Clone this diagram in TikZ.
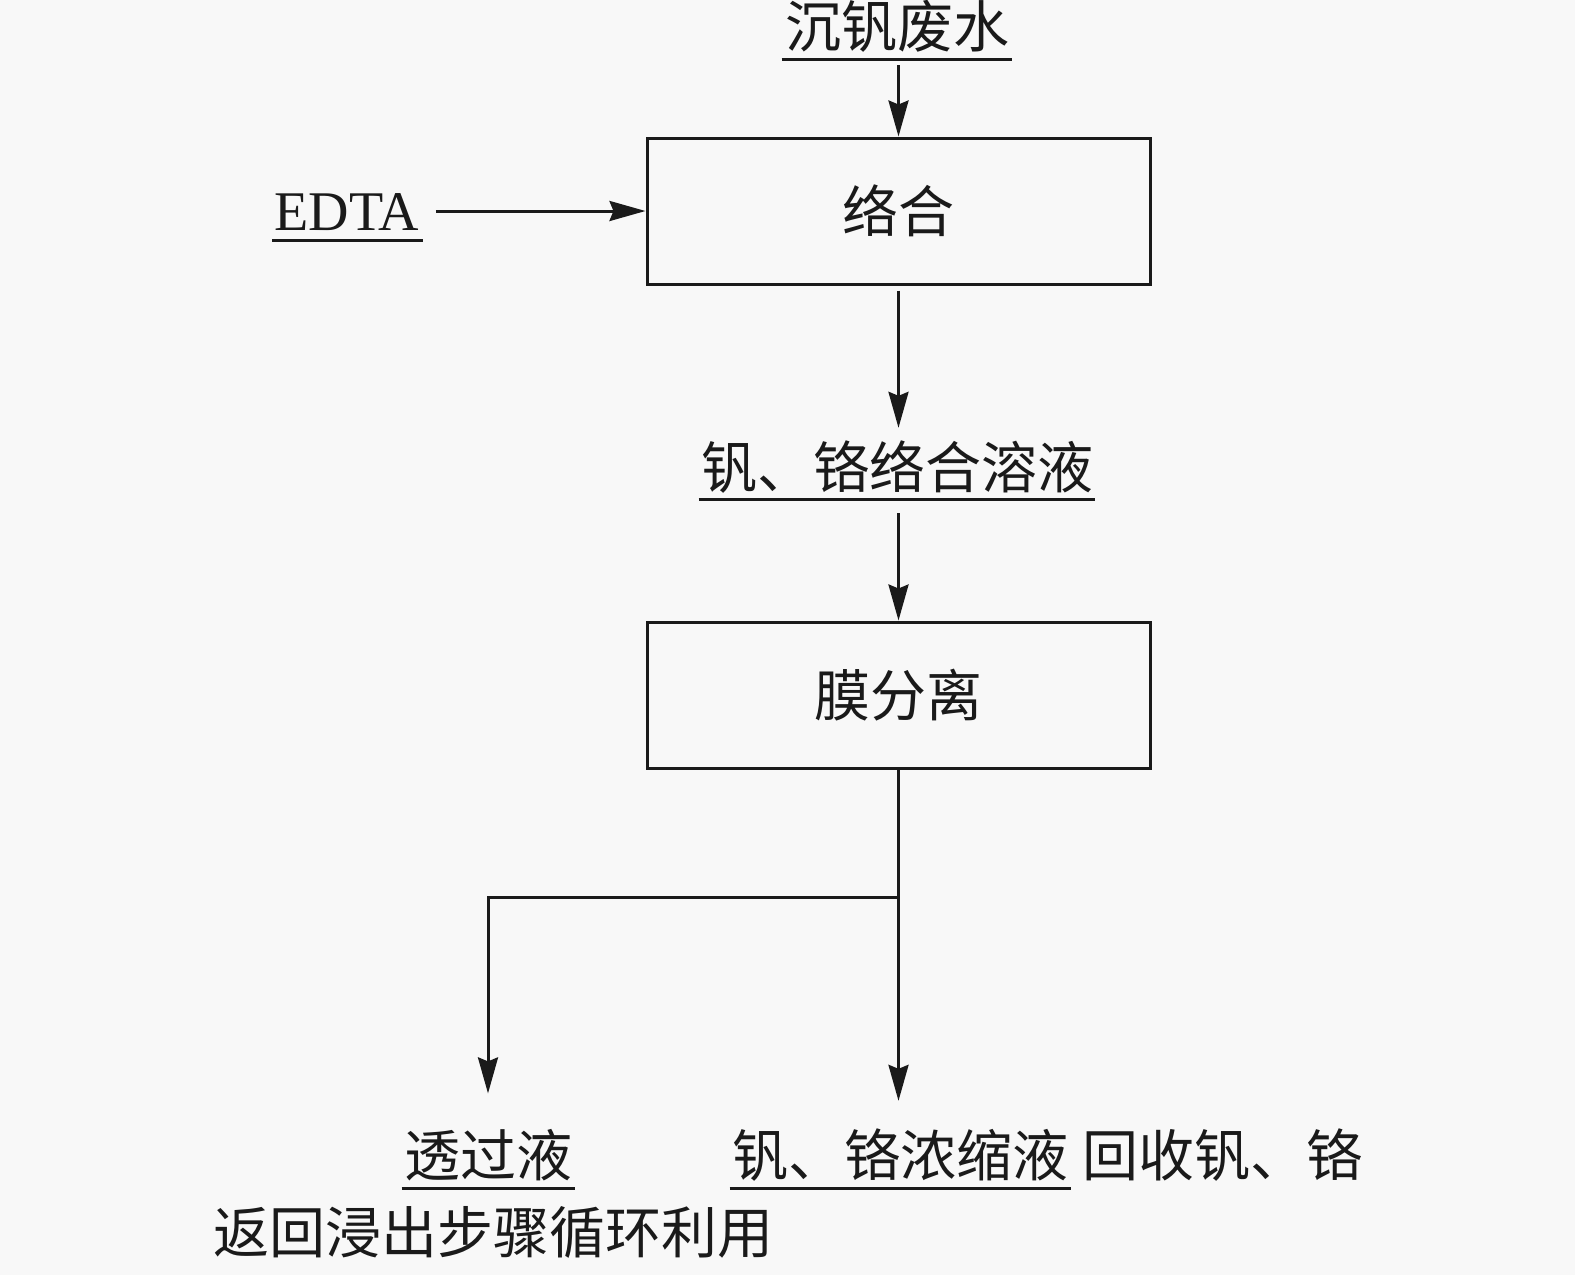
\documentclass[tikz,border=0pt]{standalone}
\usepackage{fontspec}
\setmainfont{Liberation Serif}
\newfontfamily\cjk{Noto Sans CJK SC}
\usetikzlibrary{arrows.meta,calc}
\definecolor{bg}{HTML}{F8F8F8}
\definecolor{ink}{HTML}{1A1A1A}
\begin{document}
\begin{tikzpicture}[x=0.5pt,y=-0.5pt,
  box/.style={draw=ink, line width=1.5pt, minimum width=251.5pt, minimum height=73pt, inner sep=0pt, text=ink, font=\cjk\fontsize{28}{34}\selectfont},
  lbl/.style={inner sep=0pt, anchor=base, text=ink, font=\cjk\fontsize{28}{34}\selectfont},
  arr/.style={draw=ink, line width=1.5pt, -{Stealth[length=18pt,width=10pt,inset=2pt]}},
  ul/.style={draw=ink, line width=1.5pt}]
\fill[bg] (0,0) rectangle (1575,1275);
\useasboundingbox (0,0) rectangle (1575,1275);
% nodes
\node[lbl] (src) at (897,47) {沉钒废水};
\node[box] (b1) at (898.5,211) {络合};
\node[lbl, font=\fontsize{28}{34}\selectfont] (edta) at (347,230) {EDTA};
\node[lbl] (mix) at (897,488) {钒、铬络合溶液};
\node[box] (b2) at (898.5,695) {膜分离};
\node[lbl] (perm) at (488,1176) {透过液};
\node[lbl] (conc) at (900,1176) {钒、铬浓缩液};
\node[lbl, anchor=base west] (rec) at (1082,1176) {回收钒、铬};
\node[lbl, anchor=base west] (ret) at (213,1253) {返回浸出步骤循环利用};
% underlines
\draw[ul] ([xshift=-1.5pt,yshift=-6pt]src.base west) -- ([xshift=1.5pt,yshift=-6pt]src.base east);
\draw[ul] ([xshift=-1pt,yshift=-5pt]edta.base west) -- ([xshift=1.5pt,yshift=-5pt]edta.base east);
\draw[ul] ([xshift=-1pt,yshift=-5.5pt]mix.base west) -- ([xshift=1pt,yshift=-5.5pt]mix.base east);
\draw[ul] ([xshift=-1pt,yshift=-6pt]perm.base west) -- ([xshift=1.5pt,yshift=-6pt]perm.base east);
\draw[ul] ([xshift=-1pt,yshift=-6pt]conc.base west) -- ([xshift=1.5pt,yshift=-6pt]conc.base east);
% connectors
\coordinate (e1) at ([xshift=8pt]edta.east);
\coordinate (s1) at ([yshift=-9pt]src.base);
\coordinate (m1) at ([yshift=-12.5pt]mix.base);
\coordinate (jy) at (0,897);
\coordinate (j) at (b2.south |- jy);
\coordinate (jl) at (perm.north |- jy);
\draw[arr] (s1 -| b1.north) -- (b1.north);
\draw[arr] (e1 |- b1.west) -- (b1.west);
\draw[arr] ([yshift=-2.5pt]b1.south) -- ([yshift=6pt]mix.north -| b1.south);
\draw[arr] (m1 -| b2.north) -- (b2.north);
\draw[arr] (b2.south) -- ($(b2.south |- conc.north)+(0,-27)$);
\draw[arr] (j) -- (jl) -- ($(perm.north)+(0,-35)$);
\end{tikzpicture}
\end{document}
